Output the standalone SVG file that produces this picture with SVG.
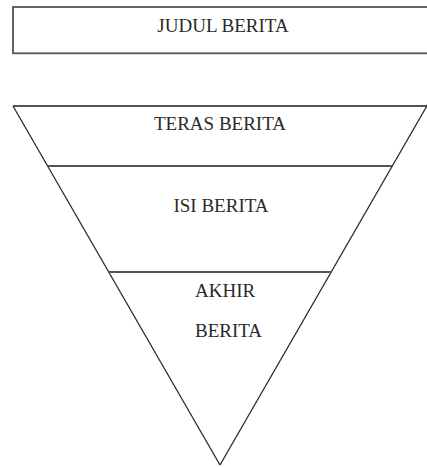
<svg xmlns="http://www.w3.org/2000/svg" width="427" height="467" viewBox="0 0 427 467">
<style>
.t{font-family:"Liberation Serif","Times New Roman",serif;font-size:19px;fill:#2a2a2a}
.h{stroke:#555;stroke-width:1.8;fill:none}
.d{stroke:#2a2a2a;stroke-width:1.3;fill:none}
</style>
<rect width="427" height="467" fill="#fff"/>
<g id="judul">
<rect x="13" y="7" width="420" height="46.3" class="h" fill="none"/>
<text class="t" x="223" y="32" text-anchor="middle">JUDUL BERITA</text>
</g>
<g id="piramida">
<line x1="13" y1="106" x2="430" y2="106" class="h"/>
<line x1="13" y1="106" x2="220" y2="465" class="d"/>
<line x1="220" y1="465" x2="428" y2="104" class="d"/>
</g>
<g id="teras">
<text class="t" x="220" y="130" text-anchor="middle">TERAS BERITA</text>
</g>
<g id="isi">
<line x1="47.6" y1="166" x2="392.4" y2="166" class="h"/>
<text class="t" x="221" y="212" text-anchor="middle">ISI BERITA</text>
</g>
<g id="akhir">
<line x1="108.7" y1="272" x2="331.3" y2="272" class="h"/>
<text class="t" x="195" y="297">AKHIR</text>
<text class="t" x="195" y="337">BERITA</text>
</g>
</svg>
